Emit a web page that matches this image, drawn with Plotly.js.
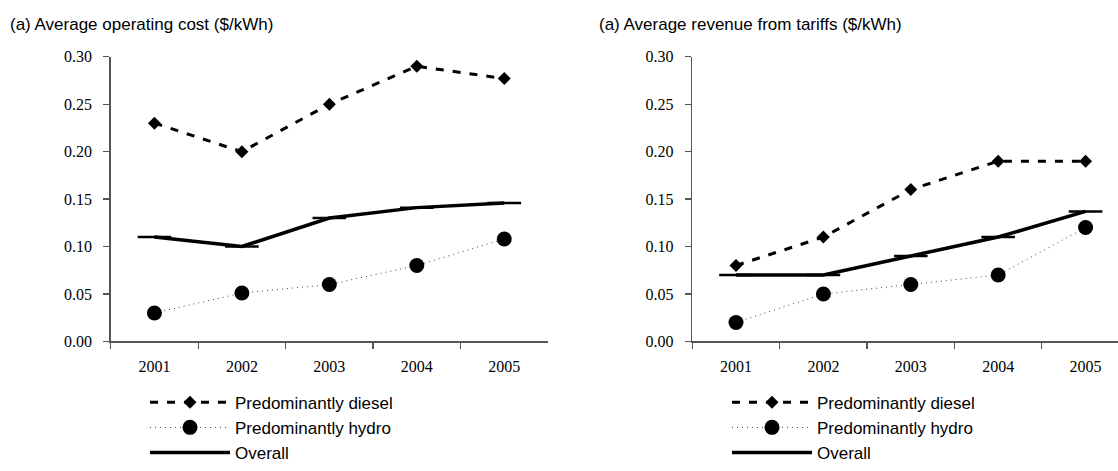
<!DOCTYPE html>
<html>
<head>
<meta charset="utf-8">
<script src="https://cdn.plot.ly/plotly-3.0.1.min.js"></script>
<style>html,body{margin:0;padding:0;background:#fff;}#chart{width:1118px;height:471px;}</style>
</head>
<body>
<div id="chart"></div>
<script>
var years = ['2001', '2002', '2003', '2004', '2005'];
var seriesNames = ['Predominantly diesel', 'Predominantly hydro', 'Overall'];
var titles = ['(a) Average operating cost ($/kWh)', '(a) Average revenue from tariffs ($/kWh)'];

var costDiesel = [0.23, 0.20, 0.25, 0.29, 0.277];
var costHydro = [0.03, 0.051, 0.06, 0.08, 0.108];
var costOverall = [0.11, 0.10, 0.13, 0.141, 0.146];

var revDiesel = [0.08, 0.11, 0.16, 0.19, 0.19];
var revHydro = [0.02, 0.05, 0.06, 0.07, 0.12];
var revOverall = [0.07, 0.07, 0.09, 0.11, 0.137];

var yTickVals = [0, 0.05, 0.10, 0.15, 0.20, 0.25, 0.30];

var W = 1118, H = 471;
function px(x) { return x / W; }
function py(y) { return 1 - y / H; }

var dieselStyle = {mode: 'lines+markers', line: {color: '#000', width: 3, dash: '8px,9px'}, marker: {symbol: 'diamond', size: 10, color: '#000'}};
var hydroStyle = {mode: 'lines+markers', line: {color: '#444', width: 1, dash: '1px,4px'}, marker: {symbol: 'circle', size: 15, color: '#000'}};
var overallStyle = {mode: 'lines+markers', line: {color: '#000', width: 3.5}, marker: {symbol: 'line-ew', size: 24, color: '#000', line: {color: '#000', width: 2.5}}};

function mk(style, y, name, xa, ya, legend) {
  var t = JSON.parse(JSON.stringify(style));
  t.type = 'scatter'; t.x = years; t.y = y; t.name = name; t.xaxis = xa; t.yaxis = ya; t.legend = legend;
  t.cliponaxis = false;
  return t;
}

var data = [
  mk(dieselStyle, costDiesel, seriesNames[0], 'x', 'y', 'legend'),
  mk(hydroStyle, costHydro, seriesNames[1], 'x', 'y', 'legend'),
  mk(overallStyle, costOverall, seriesNames[2], 'x', 'y', 'legend'),
  mk(dieselStyle, revDiesel, seriesNames[0], 'x2', 'y2', 'legend2'),
  mk(hydroStyle, revHydro, seriesNames[1], 'x2', 'y2', 'legend2'),
  mk(overallStyle, revOverall, seriesNames[2], 'x2', 'y2', 'legend2')
];

var tickFont = {family: '"Liberation Serif", "Times New Roman", serif', size: 16, color: '#000'};
var axisColor = '#555';

function xAxis(domain, range, anchor) {
  return {domain: domain, range: range, anchor: anchor, type: 'category', tickson: 'boundaries',
    showline: true, linecolor: axisColor, linewidth: 1.5, ticks: 'outside', ticklen: 6, tickcolor: axisColor, tickwidth: 1.2,
    showgrid: false, zeroline: false, tickfont: tickFont, ticklabelstandoff: 10, fixedrange: true};
}
function yAxis(domain, anchor) {
  return {domain: domain, range: [0, 0.30], anchor: anchor, tickvals: yTickVals, tickformat: '.2f',
    showline: true, linecolor: axisColor, linewidth: 1.5, ticks: 'outside', ticklen: 6, tickcolor: axisColor, tickwidth: 1.2,
    showgrid: false, zeroline: false, tickfont: tickFont, ticklabelstandoff: 8, fixedrange: true};
}

var yDom = [py(355), py(59)];
var legendFont = {family: '"Liberation Sans", Arial, sans-serif', size: 17, color: '#000'};

var layout = {
  width: W, height: H,
  margin: {l: 0, r: 0, t: 0, b: 0},
  paper_bgcolor: '#fff', plot_bgcolor: '#fff',
  showlegend: true,
  xaxis: xAxis([px(110.7), px(548)], [-0.5, 4.5], 'y'),
  yaxis: yAxis(yDom, 'x'),
  xaxis2: xAxis([px(692.3), 1], [-0.5, 4.371], 'y2'),
  yaxis2: yAxis(yDom, 'x2'),
  legend: {x: px(145), y: py(400), xanchor: 'left', yanchor: 'top', font: legendFont, itemwidth: 80, bgcolor: 'rgba(0,0,0,0)', traceorder: 'normal', itemclick: false},
  legend2: {x: px(727), y: py(400), xanchor: 'left', yanchor: 'top', font: legendFont, itemwidth: 80, bgcolor: 'rgba(0,0,0,0)', traceorder: 'normal', itemclick: false},
  annotations: [
    {text: titles[0], xref: 'paper', yref: 'paper', x: px(8), y: py(25), xanchor: 'left', yanchor: 'middle', showarrow: false,
      font: {family: '"Liberation Sans", Arial, sans-serif', size: 17, color: '#000'}},
    {text: titles[1], xref: 'paper', yref: 'paper', x: px(597), y: py(25), xanchor: 'left', yanchor: 'middle', showarrow: false,
      font: {family: '"Liberation Sans", Arial, sans-serif', size: 17, color: '#000'}}
  ]
};

Plotly.newPlot('chart', data, layout, {displayModeBar: false, staticPlot: true});
</script>
</body>
</html>
